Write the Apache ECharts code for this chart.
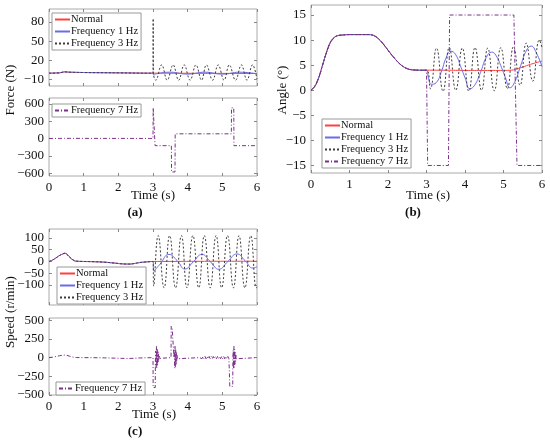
<!DOCTYPE html>
<html>
<head>
<meta charset="utf-8">
<script src="https://cdn.jsdelivr.net/npm/echarts@6/dist/echarts.min.js"></script>
<style>
  html, body { margin: 0; background: #fff; }
  #chart { width: 550px; height: 444px; }
</style>
</head>
<body>
<div id="chart"></div>
<script>
// tick labels
const forceTicks = [-10, 20, 50, 80]
const force7Ticks = [-600, -300, 0, 300, 600]
const angleTicks = [-15, -10, -5, 0, 5, 10, 15]
const speedTicks = [-100, -50, 0, 50, 100]
const speed7Ticks = [-500, -250, 0, 250, 500]

// (a) force, before 3 s all cases are the same
const forcePreT = [0, 0.3, 0.45, 0.6, 1, 2, 2.9]
const forcePre = [0, 0.5, 2, 1.5, 1, 0.5, 0]
const forceNormalT = [3, 6]
const forceNormal = [0, -0.5]
const force1T = [3, 3.02, 3.1, 3.5, 4, 4.5, 5, 5.5, 6]
const force1 = [0, -3, -1, 1.5, -1.5, 1.5, -1.5, 1.5, -1]
const force3T = [3, 3.005, 3.01, 3.08, 3.25, 3.41, 3.58, 3.74, 3.9, 4.07, 4.24, 4.4, 4.54, 4.72, 4.88, 5.05, 5.2, 5.38, 5.55, 5.71, 5.87, 6]
const force3 = [0, 85, 0, -11, 13, -11, 13, -11, 13, -11, 13, -11, 13, -11, 13, -11, 13, -11, 13, -11, 13, -9]
const force7T = [3, 3.005, 3.055, 3.06, 3.53, 3.535, 3.635, 3.64, 5.26, 5.265, 5.33, 5.335, 6]
const force7 = [0, 530, 530, -125, -125, -580, -580, 80, 80, 530, 530, -125, -125]

// (b) angle
const anglePreT = [0, 0.1, 0.2, 0.3, 0.4, 0.5, 0.6, 0.7, 0.8, 1, 1.2, 1.5, 1.6, 1.7, 1.8, 1.9, 2, 2.1, 2.2, 2.3, 2.4, 2.5, 2.6, 2.8]
const anglePre = [0, 0.8, 2.5, 5, 7.5, 9.5, 10.5, 10.9, 11, 11.1, 11.1, 11.1, 11, 10.6, 9.9, 9, 8, 7, 6.1, 5.3, 4.7, 4.3, 4.1, 4]
const angleNormalT = [3, 3.5, 4, 4.5, 5, 5.2, 5.4, 5.6, 5.8, 6]
const angleNormal = [4, 4, 3.95, 3.95, 3.95, 4, 4.4, 4.9, 5.4, 5.8]
const angle1T = [3, 3.05, 3.13, 3.25, 3.4, 3.5, 3.63, 3.75, 3.9, 4, 4.13, 4.25, 4.4, 4.55, 4.69, 4.8, 4.95, 5.05, 5.17, 5.3, 5.45, 5.6, 5.72, 5.85, 6]
const angle1 = [4, 2.5, 1.2, 1.5, 4, 6.3, 7.8, 7.2, 4.5, 2.5, 0.3, 1, 3.5, 6.5, 7.6, 7, 4.5, 2.5, 0.5, 1.8, 5, 8, 8.8, 7.5, 4.7]
const angle3T = [3, 3.1, 3.26, 3.43, 3.59, 3.76, 3.93, 4.1, 4.26, 4.43, 4.59, 4.76, 4.93, 5.1, 5.26, 5.43, 5.59, 5.76, 5.93, 6]
const angle3 = [4, 0.3, 8.4, -0.2, 8.5, 0, 8.4, -0.2, 8.5, 0, 8.4, -0.1, 8.5, 0.3, 8.7, 1, 9.4, 1.8, 10, 8.5]
const angle7T = [3, 3.03, 3.57, 3.6, 5.27, 5.35, 6]
const angle7 = [4, -15, -15, 15, 15, -15, -15]

// (c) speed
const speedPreT = [0, 0.1, 0.2, 0.3, 0.4, 0.46, 0.52, 0.6, 0.7, 0.8, 1, 1.3, 1.6, 1.9, 2.1, 2.3, 2.45, 2.6, 2.8]
const speedPre = [0, 6, 15, 25, 32, 35, 30, 18, 6, 1, 0, -1, -3, -7, -10, -11, -9, -5, -2]
const speedNormalT = [3, 6]
const speedNormal = [0, 1]
const speed1T = [3, 3.02, 3.2, 3.46, 3.7, 3.92, 4.16, 4.41, 4.66, 4.9, 5.16, 5.42, 5.66, 5.88, 6]
const speed1 = [0, -40, -12, 30, 3, -32, -2, 30, -2, -33, 0, 32, 3, -28, -22]
const speed3T = [3, 3.02, 3.15, 3.32, 3.48, 3.65, 3.82, 3.98, 4.15, 4.32, 4.48, 4.65, 4.82, 4.98, 5.15, 5.32, 5.48, 5.65, 5.82, 5.98, 6]
const speed3 = [0, -105, 110, -112, 110, -112, 110, -112, 110, -112, 110, -112, 110, -112, 110, -112, 110, -112, 110, -112, -108]
const speed7AT = [3, 3.005, 3.065, 3.07, 3.08, 3.09, 3.1, 3.11, 3.12, 3.13, 3.14, 3.15, 3.16, 3.17, 3.18, 3.19, 3.2, 3.21, 3.52]
const speed7A = [0, -400, -400, 0, 90, -130, 150, -140, 120, -100, 80, -60, 45, -30, 20, -10, 5, 0, 0]
const speed7BT = [3.525, 3.55, 3.555, 3.6, 3.605, 3.615, 3.625, 3.635, 3.645, 3.655, 3.665, 3.675, 3.685, 3.695, 3.705, 3.72, 4.35]
const speed7B = [420, 420, 385, 385, 0, 100, -140, 150, -130, 110, -90, 70, -50, 30, -15, 0, 0]
const speed7BandT = [4.38, 4.41, 4.44, 4.47, 4.5, 4.53, 4.56, 4.59, 4.62, 4.65, 4.68, 4.71, 4.74, 4.77, 4.8, 4.83, 4.86, 4.89, 4.92, 4.95, 4.98, 5.01, 5.04, 5.07, 5.1, 5.13, 5.16, 5.19]
const speed7Band = [15, -15, 15, -15, 15, -15, 15, -15, 15, -15, 15, -15, 15, -15, 15, -15, 15, -15, 15, -15, 15, -15, 15, -15, 15, -15, 15, -15]
const speed7CT = [5.21, 5.215, 5.3, 5.305, 5.315, 5.325, 5.335, 5.345, 5.355, 5.365, 5.375, 5.385, 5.395, 5.405, 5.42, 6]
const speed7C = [0, -385, -385, 0, 100, -150, 150, -130, 110, -90, 70, -50, 30, -15, 0, 0]

const FONT = 'Liberation Serif'
const COLORS = {
    'Normal': '#ff4040',
    'Frequency 1 Hz': '#6b6bea',
    'Frequency 3 Hz': '#3c3c3c',
    'Frequency 7 Hz': '#7e2f8e'
}
const DASH = {
    'Normal': 'solid',
    'Frequency 1 Hz': 'solid',
    'Frequency 3 Hz': [2, 2],
    'Frequency 7 Hz': [4, 2, 1, 2]
}

function pairs(t, v) {
    return t.map((x, i) => [x, v[i]])
}

function line(name, idx, t, v, smooth) {
    return {
        name: name,
        type: 'line',
        xAxisIndex: idx,
        yAxisIndex: idx,
        data: pairs(t, v),
        symbol: 'none',
        smooth: smooth,
        lineStyle: { color: COLORS[name], width: 1, type: DASH[name] },
        itemStyle: { color: COLORS[name] },
        animation: false
    }
}

function xAx(idx, showLabel, pos) {
    return {
        type: 'value', gridIndex: idx, min: 0, max: 6, interval: 1, position: pos || 'bottom',
        axisLine: { show: false, onZero: false },
        axisTick: { inside: true, length: 3, lineStyle: { color: '#888' } },
        axisLabel: { show: showLabel, color: '#111', fontFamily: FONT, fontSize: 13, margin: 5 },
        splitLine: { show: false }
    }
}

function yAx(idx, min, max, ticks, labels, pos) {
    return {
        type: 'value', gridIndex: idx, min: min, max: max, position: pos || 'left',
        axisLine: { show: false, onZero: false },
        axisTick: { inside: true, length: 3, interval: 0, customValues: ticks, lineStyle: { color: '#888' } },
        axisLabel: {
            show: !!labels,
            customValues: labels || ticks, color: '#111', fontFamily: FONT, fontSize: 13,
            margin: 5, interval: 0, hideOverlap: false,
            formatter: v => String(v).replace('-', '\u2212')
        },
        splitLine: { show: false }
    }
}

function legend(names, left, top) {
    return {
        data: names, left: left, top: top, orient: 'vertical',
        itemGap: 1, itemWidth: 15, itemHeight: 10,
        padding: [1, 3, 1, 2], borderColor: '#999', borderWidth: 1,
        backgroundColor: '#fff', selectedMode: false,
        itemStyle: { opacity: 0 },
        textStyle: { fontFamily: FONT, fontSize: 10.5, color: '#111', padding: [0, 0, 0, -4] }
    }
}

function label(text, x, y, rotate, bold) {
    return {
        type: 'text', x: x, y: y, rotation: rotate ? Math.PI / 2 : 0,
        style: {
            text: text, fill: '#111', textAlign: 'center', textVerticalAlign: 'middle',
            font: (bold ? 'bold ' : '') + '13px ' + FONT
        }
    }
}

const chart = echarts.init(document.getElementById('chart'))
const gridStyle = { show: true, borderColor: '#aaa', borderWidth: 1 }

chart.setOption({
    backgroundColor: '#fff',
    animation: false,
    grid: [
        Object.assign({ left: 49, top: 9, width: 208, height: 77 }, gridStyle),
        Object.assign({ left: 49, top: 98, width: 208, height: 78 }, gridStyle),
        Object.assign({ left: 311, top: 5, width: 231, height: 168 }, gridStyle),
        Object.assign({ left: 49, top: 229, width: 208, height: 76 }, gridStyle),
        Object.assign({ left: 49, top: 318, width: 208, height: 77 }, gridStyle)
    ],
    xAxis: [
        xAx(0, false), xAx(1, true), xAx(2, true), xAx(3, false), xAx(4, true),
        // box ticks along the top edge
        xAx(0, false, 'top'), xAx(1, false, 'top'), xAx(2, false, 'top'), xAx(3, false, 'top'), xAx(4, false, 'top')
    ],
    yAxis: [
        yAx(0, -20, 100, forceTicks, forceTicks),
        yAx(1, -650, 700, force7Ticks, force7Ticks),
        yAx(2, -16.5, 17, angleTicks, angleTicks),
        yAx(3, -185, 138, speedTicks, [-100, 0, 100]),
        yAx(4, -500, 530, speed7Ticks, speed7Ticks),
        // the two close speed labels go on a second left axis
        yAx(3, -185, 138, [], [-50, 50]),
        // box ticks along the right edge
        yAx(0, -20, 100, forceTicks, null, 'right'),
        yAx(1, -650, 700, force7Ticks, null, 'right'),
        yAx(2, -16.5, 17, angleTicks, null, 'right'),
        yAx(3, -185, 138, speedTicks, null, 'right'),
        yAx(4, -500, 530, speed7Ticks, null, 'right')
    ],
    legend: [
        legend(['Normal', 'Frequency 1 Hz', 'Frequency 3 Hz'], 52, 13),
        legend(['Frequency 7 Hz'], 52, 104),
        legend(['Normal', 'Frequency 1 Hz', 'Frequency 3 Hz', 'Frequency 7 Hz'], 322, 119),
        legend(['Normal', 'Frequency 1 Hz', 'Frequency 3 Hz'], 57, 267),
        legend(['Frequency 7 Hz'], 56, 382)
    ],
    series: [
        line('Normal', 0, forcePreT.concat(forceNormalT), forcePre.concat(forceNormal), false),
        line('Frequency 1 Hz', 0, forcePreT.concat(force1T), forcePre.concat(force1), true),
        line('Frequency 3 Hz', 0, forcePreT.concat(force3T), forcePre.concat(force3), 0.4),
        line('Frequency 7 Hz', 1, forcePreT.concat(force7T), forcePre.concat(force7), false),

        line('Normal', 2, anglePreT.concat(angleNormalT), anglePre.concat(angleNormal), true),
        line('Frequency 1 Hz', 2, anglePreT.concat(angle1T), anglePre.concat(angle1), true),
        line('Frequency 3 Hz', 2, anglePreT.concat(angle3T), anglePre.concat(angle3), true),
        line('Frequency 7 Hz', 2, anglePreT.concat(angle7T), anglePre.concat(angle7), false),

        line('Normal', 3, speedPreT.concat(speedNormalT), speedPre.concat(speedNormal), true),
        line('Frequency 1 Hz', 3, speedPreT.concat(speed1T), speedPre.concat(speed1), true),
        line('Frequency 3 Hz', 3, speedPreT.concat(speed3T), speedPre.concat(speed3), true),
        line('Frequency 7 Hz', 4,
            speedPreT.concat(speed7AT, speed7BT, speed7BandT, speed7CT),
            speedPre.concat(speed7A, speed7B, speed7Band, speed7C), false)
    ],
    graphic: [
        label('Force (N)', 11, 90, true),
        label('Angle (\u00b0)', 283, 90, true),
        label('Speed (r/min)', 11, 312, true),
        label('Time (s)', 153, 196),
        label('Time (s)', 428, 196),
        label('Time (s)', 154, 415),
        label('(a)', 135, 213, false, true),
        label('(b)', 413, 213, false, true),
        label('(c)', 135, 432, false, true)
    ]
})
</script>
</body>
</html>
